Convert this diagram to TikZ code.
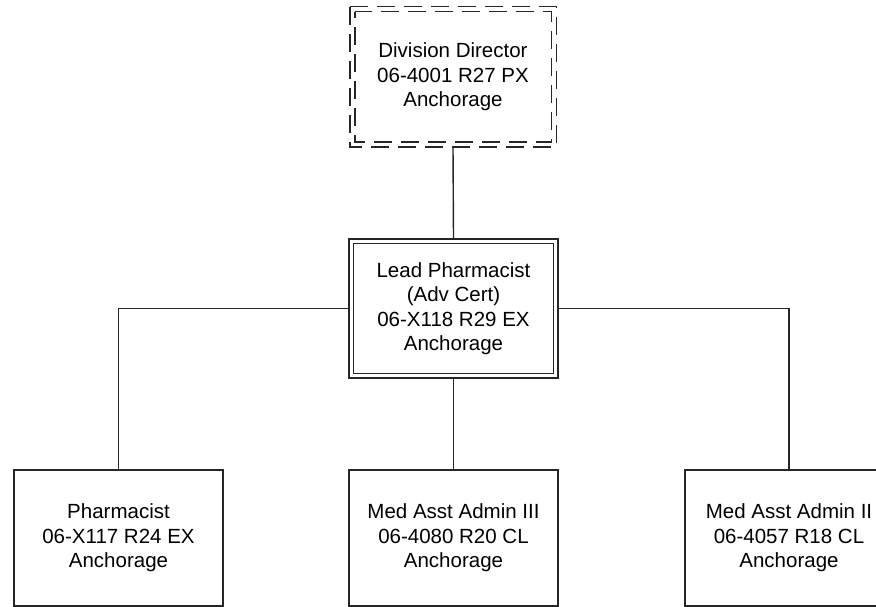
\documentclass[tikz,border=0pt]{standalone}
\usepackage{fontspec}
\setmainfont{Liberation Sans}
\begin{document}
\begin{tikzpicture}[x=1pt,y=1pt,
  every node/.style={font=\fontsize{20.5}{24.5}\selectfont, align=center, inner sep=0pt},
  box/.style={draw=black!85, line width=1.4pt, minimum width=209pt, minimum height=136pt},
  dbox/.style={minimum width=206pt, minimum height=140pt},
  dashline/.style={draw=black!85, line width=1.4pt, dash pattern=on 18pt off 9pt},
  conn/.style={draw=black!85, line width=1.4pt}]
\useasboundingbox (0,0) rectangle (876,607);
% top dashed double box
\node[dbox] (top) at (453,530) {Division Director\\06-4001 R27 PX\\Anchorage};
\draw[dashline] (top.north west) rectangle (top.south east);
\draw[dashline, dash phase=12pt] ([shift={(5,-5)}]top.north west) rectangle ([shift={(-5,5)}]top.south east);
% lead double box
\node[box, minimum height=139pt] (lead) at (453.5,298.5) {Lead Pharmacist\\(Adv Cert)\\06-X118 R29 EX\\Anchorage};
\draw[conn] ([shift={(5,-5)}]lead.north west) rectangle ([shift={(-5,5)}]lead.south east);
% bottom row
\node[box] (left) at (118.5,69) {Pharmacist\\06-X117 R24 EX\\Anchorage};
\node[box] (mid) at (453.5,69) {Med Asst Admin III\\06-4080 R20 CL\\Anchorage};
\node[box, minimum width=208pt] (right) at (789,69) {Med Asst Admin II\\06-4057 R18 CL\\Anchorage};
% connectors
\draw[conn] (top.south) -- (lead.north);
\draw[conn] (lead.south) -- (mid.north);
\draw[conn] (lead.west) -| (left.north);
\draw[conn] (lead.east) -| (right.north);
\end{tikzpicture}
\end{document}
